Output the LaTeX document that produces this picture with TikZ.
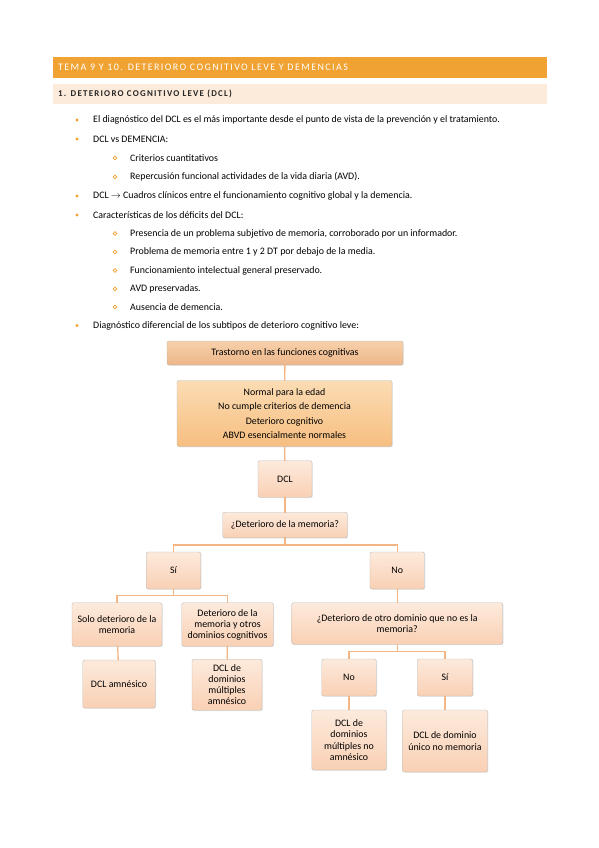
\documentclass[tikz,border=0pt]{standalone}
\usepackage{fontspec}
\setmainfont{Carlito}
\newfontfamily\spacedfont[LetterSpace=14]{Carlito}
\usetikzlibrary{positioning,shadows}

\definecolor{temaorange}{HTML}{F0A232}
\definecolor{secbg}{HTML}{FCEADA}
\definecolor{linkcol}{HTML}{F4B585}
\definecolor{titlebox}{HTML}{EDB68A}
\definecolor{titletop}{HTML}{F7D0AA}
\definecolor{critbox}{HTML}{F6BE80}
\definecolor{crittop}{HTML}{FCDCB4}
\definecolor{leafbox}{HTML}{F9D0B4}
\definecolor{leaftop}{HTML}{FDEADC}

\tikzset{
  caja/.style={draw=gray!55, rounded corners=2pt, align=center, inner sep=2pt,
    top color=leaftop, bottom color=leafbox,
    drop shadow={opacity=0.18, shadow xshift=0.8pt, shadow yshift=-0.8pt},
    font=\fontsize{9.9}{11.6}\selectfont},
  enlace/.style={draw=linkcol, line width=1.3pt, line cap=rect},
  punto/.style={circle, fill=temaorange, inner sep=0pt, minimum size=3.4pt},
  subpunto/.style={circle, draw=temaorange, line width=0.7pt, inner sep=0pt, minimum size=3.8pt},
  texto/.style={anchor=west, inner sep=0pt, font=\fontsize{9.9}{11}\selectfont}
}

\begin{document}
\begin{tikzpicture}[x=1pt, y=-1pt]
  \useasboundingbox (0,0) rectangle (599,848);

  % cabecera
  \fill[temaorange] (53,57) rectangle (547,78);
  \node[anchor=west, inner sep=0pt, text=white, font=\spacedfont\fontsize{10}{11}\selectfont] (tema) at (58,67.5)
    {TEMA 9 Y 10. DETERIORO COGNITIVO LEVE Y DEMENCIAS};
  \fill[secbg] (53,84) rectangle (547,104);
  \node[anchor=west, inner sep=0pt, text=black!85, font=\spacedfont\bfseries\fontsize{8.9}{10}\selectfont] (seccion) at (58,94)
    {1. DETERIORO COGNITIVO LEVE (DCL)};

  % lista
  \node[punto] (p1) at (77,120) {};
  \node[texto] (t1) at (93,120) {El diagnóstico del DCL es el más importante desde el punto de vista de la prevención y el tratamiento.};
  \node[punto] (p2) at (77,139) {};
  \node[texto] (t2) at (93,139) {DCL vs DEMENCIA:};
  \node[subpunto] (s1) at (115,158) {};
  \node[texto] (u1) at (130,158) {Criterios cuantitativos};
  \node[subpunto] (s2) at (115,177) {};
  \node[texto] (u2) at (130,177) {Repercusión funcional actividades de la vida diaria (AVD).};
  \node[punto] (p3) at (77,196) {};
  \node[texto] (t3) at (93,196) {DCL $\rightarrow$ Cuadros clínicos entre el funcionamiento cognitivo global y la demencia.};
  \node[punto] (p4) at (77,215) {};
  \node[texto] (t4) at (93,215) {Características de los déficits del DCL:};
  \node[subpunto] (s3) at (115,233.5) {};
  \node[texto] (u3) at (130,233.5) {Presencia de un problema subjetivo de memoria, corroborado por un informador.};
  \node[subpunto] (s4) at (115,252) {};
  \node[texto] (u4) at (130,252) {Problema de memoria entre 1 y 2 DT por debajo de la media.};
  \node[subpunto] (s5) at (115,270.5) {};
  \node[texto] (u5) at (130,270.5) {Funcionamiento intelectual general preservado.};
  \node[subpunto] (s6) at (115,289) {};
  \node[texto] (u6) at (130,289) {AVD preservadas.};
  \node[subpunto] (s7) at (115,307) {};
  \node[texto] (u7) at (130,307) {Ausencia de demencia.};
  \node[punto] (p5) at (77,325.5) {};
  \node[texto] (t5) at (93,325.5) {Diagnóstico diferencial de los subtipos de deterioro cognitivo leve:};

  % diagrama
  \node[caja, top color=titletop, bottom color=titlebox, minimum width=236pt, minimum height=24pt] (trastorno) at (285,353)
    {Trastorno en las funciones cognitivas};
  \node[caja, top color=crittop, bottom color=critbox, minimum width=215pt, minimum height=66pt,
    font=\fontsize{9.9}{14.6}\selectfont] (criterios) at (284.5,413.5)
    {Normal para la edad\\No cumple criterios de demencia\\Deterioro cognitivo\\ABVD esencialmente normales};
  \node[caja, minimum width=54pt, minimum height=36.5pt] (dcl) at (285,479) {DCL};
  \node[caja, minimum width=124.5pt, minimum height=25.5pt] (memoria) at (285,525) {¿Deterioro de la memoria?};
  \node[caja, minimum width=54.5pt, minimum height=37pt] (si) at (173.5,570.5) {Sí};
  \node[caja, minimum width=54.5pt, minimum height=37pt] (no) at (397.2,570.5) {No};
  \node[caja, minimum width=90pt, minimum height=43.5pt] (solo) at (117,624.5) {Solo deterioro de la\\memoria};
  \node[caja, minimum width=91.5pt, minimum height=43.5pt, font=\fontsize{9.9}{11}\selectfont] (otros) at (227.5,624.5)
    {Deterioro de la\\memoria y otros\\dominios cognitivos};
  \node[caja, minimum width=72.5pt, minimum height=48pt] (amnesico) at (119,684) {DCL amnésico};
  \node[caja, minimum width=70pt, minimum height=51pt, font=\fontsize{9.9}{11.2}\selectfont] (multiam) at (227,684.7)
    {DCL de\\dominios\\múltiples\\amnésico};
  \node[caja, minimum width=211pt, minimum height=41.5pt] (otrodom) at (397.2,623.5)
    {¿Deterioro de otro dominio que no es la\\memoria?};
  \node[caja, minimum width=54.5pt, minimum height=37pt] (no2) at (349,677.5) {No};
  \node[caja, minimum width=55.5pt, minimum height=37pt] (si2) at (445,677.5) {Sí};
  \node[caja, minimum width=74.5pt, minimum height=60pt, font=\fontsize{9.9}{11.2}\selectfont] (multino) at (349,740)
    {DCL de\\dominios\\múltiples no\\amnésico};
  \node[caja, minimum width=85pt, minimum height=62pt] (unico) at (445,741) {DCL de dominio\\único no memoria};

  % puntos de reparto
  \coordinate (rama1) at (285,545);
  \coordinate (rama2) at (173.5,595.5);
  \coordinate (rama3) at (397.2,651.5);

  % conexiones
  \draw[enlace] (trastorno) -- (criterios);
  \draw[enlace] (criterios) -- (dcl);
  \draw[enlace] (dcl) -- (memoria);
  \draw[enlace] (memoria) -- (rama1);
  \draw[enlace] (rama1 -| si) -- (rama1 -| no);
  \draw[enlace] (rama1 -| si) -- (si);
  \draw[enlace] (rama1 -| no) -- (no);
  \draw[enlace] (si) -- (rama2);
  \draw[enlace] (rama2 -| solo) -- (rama2 -| otros);
  \draw[enlace] (rama2 -| solo) -- (solo);
  \draw[enlace] (rama2 -| otros) -- (otros);
  \draw[enlace] (solo) -- (amnesico);
  \draw[enlace] (otros) -- (multiam);
  \draw[enlace] (no) -- (otrodom);
  \draw[enlace] (otrodom) -- (rama3);
  \draw[enlace] (rama3 -| no2) -- (rama3 -| si2);
  \draw[enlace] (rama3 -| no2) -- (no2);
  \draw[enlace] (rama3 -| si2) -- (si2);
  \draw[enlace] (no2) -- (multino);
  \draw[enlace] (si2) -- (unico);
\end{tikzpicture}
\end{document}
